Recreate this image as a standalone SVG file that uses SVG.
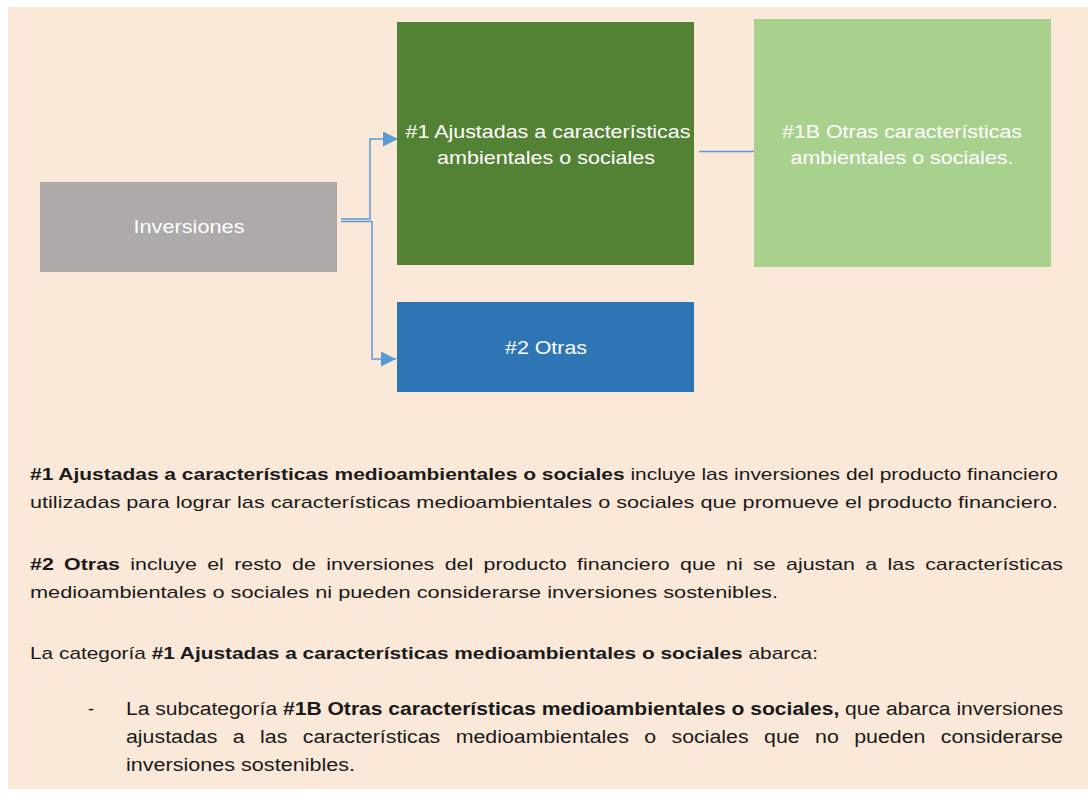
<svg xmlns="http://www.w3.org/2000/svg" width="1088" height="793" viewBox="0 0 1088 793">
<style>
.box{font-family:"Liberation Sans",Arial,sans-serif;font-size:19px;fill:#ffffff;text-anchor:middle}
.p{font-family:"Liberation Sans",Arial,sans-serif;font-size:17px;fill:#1a1a1a}
.c{font-family:"Liberation Sans",Arial,sans-serif;font-size:18px;fill:#1a1a1a}
.b{font-weight:bold}
.con{fill:none;stroke:#5b9bd5;stroke-width:1.5}
</style>
<defs>
<marker id="arr" viewBox="0 0 10 10" refX="10" refY="5" markerWidth="15" markerHeight="15" markerUnits="userSpaceOnUse" orient="auto">
<path d="M0,0 L10,5 L0,10 Z" fill="#5b9bd5"/>
</marker>
</defs>
<rect x="8" y="7" width="1080" height="782" fill="#fae8d8"/>
<g id="connectors">
<path class="con" d="M341,219 H370 V139 H398" marker-end="url(#arr)"/>
<path class="con" d="M341,221.5 H372 V359 H396" marker-end="url(#arr)"/>
<path class="con" d="M699,151.5 H754"/>
</g>
<g id="inversiones">
<rect x="40" y="182" width="297" height="90" fill="#aeaaaa"/>
<text class="box" x="189" y="233" textLength="111" lengthAdjust="spacingAndGlyphs">Inversiones</text>
</g>
<g id="n1">
<rect x="397" y="22" width="297" height="243" fill="#548235"/>
<text class="box" x="548" y="138" textLength="285" lengthAdjust="spacingAndGlyphs">#1 Ajustadas a características</text>
<text class="box" x="546" y="164" textLength="218" lengthAdjust="spacingAndGlyphs">ambientales o sociales</text>
</g>
<g id="n1b">
<rect x="754" y="19" width="297" height="248" fill="#a9d18e"/>
<text class="box" x="902" y="138" textLength="240" lengthAdjust="spacingAndGlyphs">#1B Otras características</text>
<text class="box" x="902" y="164" textLength="223" lengthAdjust="spacingAndGlyphs">ambientales o sociales.</text>
</g>
<g id="n2">
<rect x="397" y="302" width="297" height="90" fill="#2e75b6"/>
<text class="box" x="546" y="354" textLength="82" lengthAdjust="spacingAndGlyphs">#2 Otras</text>
</g>
<g id="texto">
<text class="p" x="30" y="480" textLength="1028" lengthAdjust="spacingAndGlyphs"><tspan class="b">#1 Ajustadas a características medioambientales o sociales</tspan> incluye las inversiones del producto financiero</text>
<text class="p" x="30" y="508" textLength="1028" lengthAdjust="spacingAndGlyphs">utilizadas para lograr las características medioambientales o sociales que promueve el producto financiero.</text>
<text class="p" x="30" y="570" textLength="1033" lengthAdjust="spacingAndGlyphs" word-spacing="3.5"><tspan class="b">#2 Otras</tspan> incluye el resto de inversiones del producto financiero que ni se ajustan a las características</text>
<text class="p" x="30" y="598" textLength="748" lengthAdjust="spacingAndGlyphs">medioambientales o sociales ni pueden considerarse inversiones sostenibles.</text>
<text class="p" x="30" y="659" textLength="788" lengthAdjust="spacingAndGlyphs">La categoría <tspan class="b">#1 Ajustadas a características medioambientales o sociales</tspan> abarca:</text>
<text class="c" x="88" y="715">-</text>
<text class="c" x="126" y="715" textLength="937" lengthAdjust="spacingAndGlyphs">La subcategoría <tspan class="b">#1B Otras características medioambientales o sociales,</tspan> que abarca inversiones</text>
<text class="c" x="126" y="743" textLength="937" lengthAdjust="spacingAndGlyphs" word-spacing="8">ajustadas a las características medioambientales o sociales que no pueden considerarse</text>
<text class="c" x="126" y="771" textLength="229" lengthAdjust="spacingAndGlyphs">inversiones sostenibles.</text>
</g>
</svg>
